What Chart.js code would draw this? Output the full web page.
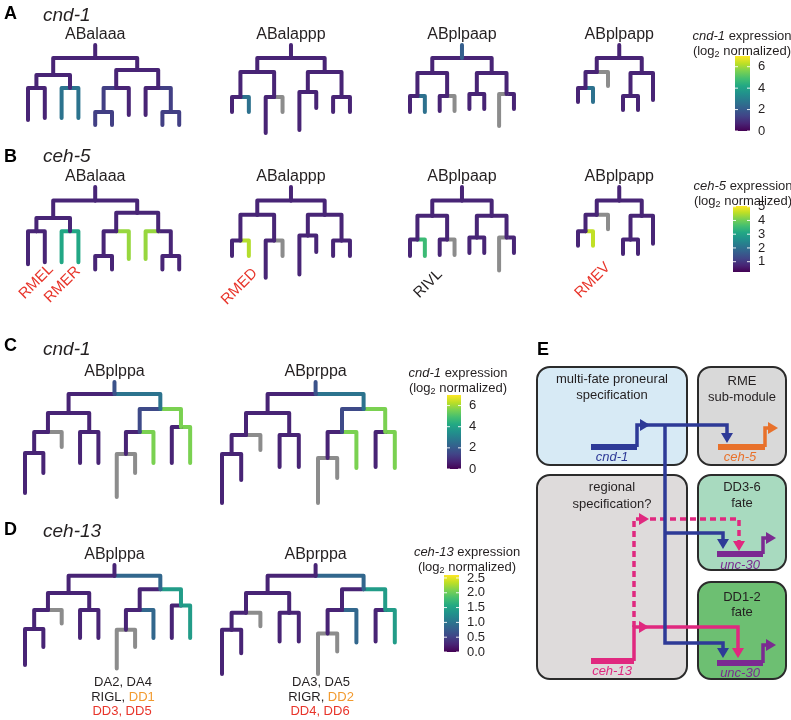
<!DOCTYPE html>
<html>
<head>
<meta charset="utf-8">
<style>
  html, body { margin: 0; background: #fff; }
  #wrap { width: 791px; height: 720px; }
</style>
<script src="https://cdn.jsdelivr.net/npm/chart.js@4.4.1/dist/chart.umd.min.js"></script>
</head>
<body>
<div id="wrap"><canvas id="fig" width="791" height="720"></canvas></div>
<script>
const FONT = '"Liberation Sans", Arial, Helvetica, sans-serif';
Chart.defaults.font.family = FONT;

// ===== lineage data: cell names ('' = founder, a/p = daughters), end time of each cell =====
const cellsABalaaa = ['', 'a', 'aa', 'aaa', 'aap', 'ap', 'apa', 'app', 'p', 'pa', 'paa', 'paaa', 'paap', 'pap', 'pp', 'ppa', 'ppp', 'pppa', 'pppp'];
const endABalaaa   = [13, 30, 43, 75, 73, 43, 73, 73, 25, 43, 67, 80, 80, 70, 43, 70, 67, 80, 80];

const cellsABalappp = ['', 'a', 'aa', 'aaa', 'aap', 'ap', 'apa', 'app', 'p', 'pa', 'paa', 'pap', 'pp', 'ppa', 'ppp'];
const endABalappp   = [13, 27, 52, 67, 67, 52, 88, 67, 27, 47, 85, 63, 52, 67, 67];

const cellsABplpaap = ['', 'a', 'aa', 'aaa', 'aap', 'ap', 'apa', 'app', 'p', 'pa', 'paa', 'pap', 'pp', 'ppa', 'ppp'];
const endABplpaap   = [13, 28, 51, 67, 67, 51, 66, 66, 28, 49, 64, 64, 49, 81, 64];

const cellsABplpapp = ['', 'a', 'aa', 'aaa', 'aap', 'ap', 'p', 'pa', 'paa', 'pap', 'pp'];
const endABplpapp   = [13, 27, 43, 57, 57, 41, 28, 51, 65, 65, 55];

const cellsABplppa = ['', 'a', 'aa', 'aaa', 'aaaa', 'aaap', 'aap', 'ap', 'apa', 'app', 'p', 'pa', 'paa', 'paaa', 'paap', 'pap', 'pp', 'ppa', 'ppp'];
const endABplppa   = [12, 31, 50, 71, 111, 91, 65, 50, 81, 81, 27, 50, 72, 115, 91, 81, 45, 81, 81];

const cellsABprppa = ['', 'a', 'aa', 'aaa', 'aaaa', 'aaap', 'aap', 'ap', 'apa', 'app', 'p', 'pa', 'paa', 'paaa', 'paap', 'pap', 'pp', 'ppa', 'ppp'];
const endABprppa   = [12, 31, 53, 72, 121, 98, 68, 53, 85, 85, 27, 50, 76, 121, 96, 86, 50, 85, 86];

// ===== expression (log2 normalized), null = not measured =====
const cnd1ABalaaa  = [0.7, 0.7, 0.7, 0.7, 0.7, 0.7, 2.65, 2.65, 0.7, 0.7, 1.3, 1.3, 1.3, 0.7, 0.7, 0.7, 1.3, 1.3, 1.3];
const cnd1ABalappp = [0.7, 0.7, 0.7, 0.7, 2.6, 0.7, 0.7, null, 0.7, 0.7, 0.7, 0.7, 0.7, 0.7, 0.7];
const cnd1ABplpaap = [2.1, 0.7, 0.7, 0.7, 2.6, 0.7, 0.7, null, 0.7, 0.7, 0.7, 0.7, 0.7, null, 0.7];
const cnd1ABplpapp = [0.7, 0.7, 0.7, 0.7, 2.6, null, 0.7, 0.7, 0.7, 0.7, 0.7];

const ceh5ABalaaa  = [0.75, 0.75, 0.75, 0.75, 0.75, 0.75, 3.1, 3.1, 0.75, 0.75, 0.75, 0.75, 0.75, 4.3, 0.75, 4.3, 0.75, 0.75, 0.75];
const ceh5ABalappp = [0.75, 0.75, 0.75, 0.75, 4.5, 0.75, 0.75, null, 0.75, 0.75, 0.75, 0.75, 0.75, 0.75, 0.75];
const ceh5ABplpaap = [0.75, 0.75, 0.75, 0.75, 3.5, 0.75, 0.75, null, 0.75, 0.75, 0.75, 0.75, 0.75, null, 0.75];
const ceh5ABplpapp = [0.75, 0.75, 0.75, 0.75, 4.6, null, 0.75, 0.75, 0.75, 0.75, 0.75];

const cnd1ABplppa  = [1.75, 0.7, 0.7, 0.7, 0.7, 0.7, null, 0.7, 0.7, 0.7, 2.65, 1.55, 0.7, null, null, 5.6, 5.6, 0.7, 5.6];
const cnd1ABprppa  = [1.75, 0.7, 0.7, 0.7, 0.7, 0.7, null, 0.7, 0.7, 0.7, 2.65, 1.55, 0.7, null, null, 5.6, 5.6, 0.7, 5.6];

const ceh13ABplppa = [0.26, 0.26, 0.26, 0.26, 0.26, 0.26, null, 0.26, 0.26, 0.26, 0.86, 0.26, 0.26, null, null, 0.86, 1.43, 0.26, 1.43];
const ceh13ABprppa = [0.26, 0.26, 0.26, 0.26, 0.26, 0.26, null, 0.26, 0.26, 0.26, 0.86, 0.26, 0.26, null, null, 0.86, 1.43, 0.26, 1.43];

// ===== colour bar ranges and ticks =====
const cnd1Range  = [0, 7];
const ceh5Range  = [0.25, 5.05];
const ceh13Range = [0, 2.6];
const cnd1Ticks  = [0, 2, 4, 6];
const ceh5Ticks  = [1, 2, 3, 4, 5];
const ceh13Ticks = [0, 0.5, 1, 1.5, 2, 2.5];

// ===== layout of the panels (page coordinates) =====
const trees = [
  { name: 'ABalaaa',  cells: cellsABalaaa,  ends: endABalaaa,  expr: cnd1ABalaaa,  range: cnd1Range,  x0: 28,  dx: 16.8, top: 45, yk: 1 },
  { name: 'ABalappp', cells: cellsABalappp, ends: endABalappp, expr: cnd1ABalappp, range: cnd1Range,  x0: 232, dx: 16.85, top: 45, yk: 1 },
  { name: 'ABplpaap', cells: cellsABplpaap, ends: endABplpaap, expr: cnd1ABplpaap, range: cnd1Range,  x0: 410, dx: 14.85, top: 45, yk: 1 },
  { name: 'ABplpapp', cells: cellsABplpapp, ends: endABplpapp, expr: cnd1ABplpapp, range: cnd1Range,  x0: 578, dx: 15, top: 45, yk: 1 },
  { name: 'ABalaaa',  cells: cellsABalaaa,  ends: endABalaaa,  expr: ceh5ABalaaa,  range: ceh5Range,  x0: 28,  dx: 16.8, top: 187, yk: 1.03 },
  { name: 'ABalappp', cells: cellsABalappp, ends: endABalappp, expr: ceh5ABalappp, range: ceh5Range,  x0: 232, dx: 16.85, top: 187, yk: 1.03 },
  { name: 'ABplpaap', cells: cellsABplpaap, ends: endABplpaap, expr: ceh5ABplpaap, range: ceh5Range,  x0: 410, dx: 14.85, top: 187, yk: 1.03 },
  { name: 'ABplpapp', cells: cellsABplpapp, ends: endABplpapp, expr: ceh5ABplpapp, range: ceh5Range,  x0: 578, dx: 15, top: 187, yk: 1.03 },
  { name: 'ABplppa',  cells: cellsABplppa,  ends: endABplppa,  expr: cnd1ABplppa,  range: cnd1Range,  x0: 25,  dx: 18.35, top: 382, yk: 1 },
  { name: 'ABprppa',  cells: cellsABprppa,  ends: endABprppa,  expr: cnd1ABprppa,  range: cnd1Range,  x0: 222, dx: 19.2, top: 382, yk: 1 },
  { name: 'ABplppa',  cells: cellsABplppa,  ends: endABplppa,  expr: ceh13ABplppa, range: ceh13Range, x0: 25,  dx: 18.35, top: 565, yk: 0.9 },
  { name: 'ABprppa',  cells: cellsABprppa,  ends: endABprppa,  expr: ceh13ABprppa, range: ceh13Range, x0: 222, dx: 19.2, top: 565, yk: 0.9 }
];

const colorBars = [
  { gene: 'cnd-1',  range: cnd1Range,  ticks: cnd1Ticks,  x: 735, w: 15, top: 56,  bottom: 131, cx: 742, ty: 36 },
  { gene: 'ceh-5',  range: ceh5Range,  ticks: ceh5Ticks,  x: 733, w: 17, top: 206, bottom: 272, cx: 743, ty: 186 },
  { gene: 'cnd-1',  range: cnd1Range,  ticks: cnd1Ticks,  x: 447, w: 14, top: 395, bottom: 469, cx: 458, ty: 373 },
  { gene: 'ceh-13', range: ceh13Range, ticks: ceh13Ticks, x: 444, w: 15, top: 575, bottom: 652, cx: 467, ty: 552 }
];

const GRAY = '#8c8c8c';
const RED = '#e8352b';
const ORANGE = '#f29a2e';
const INK = '#231f20';
const E_BLUE = '#2e3a97', E_MAG = '#e0287f', E_PUR = '#7b2a91', E_ORA = '#e8712b';

// viridis
const VIR = ['#440154', '#482475', '#414487', '#355f8d', '#2a788e', '#21918c', '#22a884', '#44bf70', '#7ad151', '#bddf26', '#fde725'];
function hex(h) { return [1, 3, 5].map(i => parseInt(h.substr(i, 2), 16)); }
function viridis(t) {
  t = Math.max(0, Math.min(1, t));
  const p = t * 10, i = Math.min(9, Math.floor(p)), f = p - i;
  const a = hex(VIR[i]), b = hex(VIR[i + 1]);
  const c = a.map((v, k) => Math.round(v + (b[k] - v) * f));
  return `rgb(${c[0]},${c[1]},${c[2]})`;
}

// tree layout: leaves evenly spaced in pre-order, parents midway between daughters
function treeSegments(tr) {
  const idx = {};
  tr.cells.forEach((c, i) => { idx[c] = i; });
  const isLeaf = c => !((c + 'a') in idx) && !((c + 'p') in idx);
  const order = tr.cells.slice().sort();
  const xs = {};
  let k = 0;
  order.forEach(c => { if (isLeaf(c)) xs[c] = tr.x0 + tr.dx * k++; });
  order.slice().sort((a, b) => b.length - a.length).forEach(c => {
    if (!isLeaf(c)) xs[c] = (xs[c + 'a'] + xs[c + 'p']) / 2;
  });
  const endY = c => tr.top + tr.ends[idx[c]] * tr.yk;
  const segs = [];
  tr.cells.forEach((c, i) => {
    const v = tr.expr[i];
    const color = v === null ? GRAY : viridis((v - tr.range[0]) / (tr.range[1] - tr.range[0]));
    let pts;
    if (c === '') pts = [{ x: xs[c], y: tr.top }, { x: xs[c], y: endY(c) }];
    else {
      const p = c.slice(0, -1);
      pts = [{ x: xs[p], y: endY(p) }, { x: xs[c], y: endY(p) }, { x: xs[c], y: endY(c) }];
    }
    segs.push({ pts, color });
  });
  return { segs, rootX: xs[''] };
}

// schematic (panel E) wiring
const ePaths = [
  { pts: [[591, 447], [637, 447]], color: E_BLUE, w: 6 },
  { pts: [[637, 447], [637, 425], [642, 425]], color: E_BLUE, w: 3.5 },
  { pts: [[646, 425], [727, 425], [727, 434]], color: E_BLUE, w: 3.5 },
  { pts: [[665, 425], [665, 643], [723, 643], [723, 649]], color: E_BLUE, w: 3.5 },
  { pts: [[665, 533], [723, 533], [723, 540]], color: E_BLUE, w: 3.5 },
  { pts: [[718, 447], [765, 447]], color: E_ORA, w: 6 },
  { pts: [[765, 447], [765, 428], [769, 428]], color: E_ORA, w: 3.5 },
  { pts: [[591, 661], [634, 661]], color: E_MAG, w: 6 },
  { pts: [[634, 661], [634, 627], [640, 627]], color: E_MAG, w: 3.5 },
  { pts: [[646, 627], [738, 627], [738, 649]], color: E_MAG, w: 3.5 },
  { pts: [[634, 627], [634, 519], [640, 519]], color: E_MAG, w: 3.5, dash: [6, 4] },
  { pts: [[650, 519], [739, 519], [739, 542]], color: E_MAG, w: 3.5, dash: [6, 4] },
  { pts: [[717, 554], [763, 554]], color: E_PUR, w: 6 },
  { pts: [[763, 554], [763, 538], [767, 538]], color: E_PUR, w: 3.5 },
  { pts: [[717, 663], [763, 663]], color: E_PUR, w: 6 },
  { pts: [[763, 663], [763, 645], [767, 645]], color: E_PUR, w: 3.5 }
];
const eHeads = [
  { x: 650, y: 425, dir: 'r', color: E_BLUE }, { x: 727, y: 443, dir: 'd', color: E_BLUE },
  { x: 723, y: 658, dir: 'd', color: E_BLUE }, { x: 723, y: 549, dir: 'd', color: E_BLUE },
  { x: 778, y: 428, dir: 'r', color: E_ORA },
  { x: 649, y: 627, dir: 'r', color: E_MAG }, { x: 738, y: 658, dir: 'd', color: E_MAG },
  { x: 649, y: 519, dir: 'r', color: E_MAG }, { x: 739, y: 551, dir: 'd', color: E_MAG },
  { x: 776, y: 538, dir: 'r', color: E_PUR }, { x: 776, y: 645, dir: 'r', color: E_PUR }
];
const eBoxes = [
  { x: 537, y: 367, w: 150, h: 98, fill: '#d7eaf5' },
  { x: 698, y: 367, w: 88, h: 98, fill: '#d9d9d9' },
  { x: 537, y: 475, w: 150, h: 204, fill: '#dedbdb' },
  { x: 698, y: 475, w: 88, h: 95, fill: '#a8dabf' },
  { x: 698, y: 582, w: 88, h: 97, fill: '#6dbf72' }
];

// text helpers
function run(t, size, color, style, dy) { return { t, size, color: color || INK, style: style || '', dy: dy || 0 }; }
const texts = [
  { runs: [run('A', 18, '#000', 'bold')], x: 4, y: 14 },
  { runs: [run('cnd-1', 19, INK, 'italic')], x: 43, y: 16 },
  { runs: [run('B', 18, '#000', 'bold')], x: 4, y: 157 },
  { runs: [run('ceh-5', 19, INK, 'italic')], x: 43, y: 157 },
  { runs: [run('C', 18, '#000', 'bold')], x: 4, y: 346 },
  { runs: [run('cnd-1', 19, INK, 'italic')], x: 43, y: 350 },
  { runs: [run('D', 18, '#000', 'bold')], x: 4, y: 530 },
  { runs: [run('ceh-13', 19, INK, 'italic')], x: 43, y: 532 },
  { runs: [run('E', 18, '#000', 'bold')], x: 537, y: 350 },
  // B cell identities
  { runs: [run('RMEL', 15, RED)], x: 51, y: 267, rot: -45, align: 'right' },
  { runs: [run('RMER', 15, RED)], x: 78, y: 269, rot: -45, align: 'right' },
  { runs: [run('RMED', 15, RED)], x: 255, y: 271, rot: -45, align: 'right' },
  { runs: [run('RIVL', 15, INK)], x: 440, y: 272, rot: -45, align: 'right' },
  { runs: [run('RMEV', 15, RED)], x: 608, y: 265, rot: -45, align: 'right' },
  // D cell identities
  { runs: [run('DA2, DA4', 13)], x: 123, y: 682, align: 'center' },
  { runs: [run('RIGL, ', 13), run('DD1', 13, ORANGE)], x: 123, y: 697, align: 'center' },
  { runs: [run('DD3, DD5', 13, RED)], x: 122, y: 711, align: 'center' },
  { runs: [run('DA3, DA5', 13)], x: 321, y: 682, align: 'center' },
  { runs: [run('RIGR, ', 13), run('DD2', 13, ORANGE)], x: 321, y: 697, align: 'center' },
  { runs: [run('DD4, DD6', 13, RED)], x: 320, y: 711, align: 'center' },
  // E labels
  { runs: [run('multi-fate proneural', 13)], x: 612, y: 379, align: 'center' },
  { runs: [run('specification', 13)], x: 612, y: 395, align: 'center' },
  { runs: [run('RME', 13)], x: 742, y: 381, align: 'center' },
  { runs: [run('sub-module', 13)], x: 742, y: 397, align: 'center' },
  { runs: [run('regional', 13)], x: 612, y: 487, align: 'center' },
  { runs: [run('specification?', 13)], x: 612, y: 504, align: 'center' },
  { runs: [run('DD3-6', 13)], x: 742, y: 487, align: 'center' },
  { runs: [run('fate', 13)], x: 742, y: 503, align: 'center' },
  { runs: [run('DD1-2', 13)], x: 742, y: 597, align: 'center' },
  { runs: [run('fate', 13)], x: 742, y: 612, align: 'center' },
  { runs: [run('cnd-1', 13, E_BLUE, 'italic')], x: 612, y: 457, align: 'center' },
  { runs: [run('ceh-5', 13, E_ORA, 'italic')], x: 740, y: 457, align: 'center' },
  { runs: [run('unc-30', 13, E_PUR, 'italic')], x: 740, y: 565, align: 'center' },
  { runs: [run('unc-30', 13, E_PUR, 'italic')], x: 740, y: 673, align: 'center' },
  { runs: [run('ceh-13', 13, E_MAG, 'italic')], x: 612, y: 671, align: 'center' }
];

// ===== datasets =====
const datasets = [];
const treeInfo = [];
trees.forEach(tr => {
  const res = treeSegments(tr);
  treeInfo.push({ name: tr.name, x: res.rootX, y: tr.top - 10 });
  res.segs.forEach(s => datasets.push({
    data: s.pts, showLine: true, borderColor: s.color, borderWidth: 4,
    pointRadius: 0, borderCapStyle: 'round', borderJoinStyle: 'round', tension: 0
  }));
});
ePaths.forEach(p => datasets.push({
  data: p.pts.map(q => ({ x: q[0], y: q[1] })), showLine: true, borderColor: p.color,
  borderWidth: p.w, pointRadius: 0, borderCapStyle: 'butt', borderJoinStyle: 'miter',
  borderDash: p.dash || [], tension: 0
}));

function drawRuns(ctx, runs, x, y, align) {
  let total = 0;
  runs.forEach(r => {
    ctx.font = `${r.style} ${r.size}px ${FONT}`;
    r.w = ctx.measureText(r.t).width;
    total += r.w;
  });
  let cx = align === 'center' ? x - total / 2 : align === 'right' ? x - total : x;
  runs.forEach(r => {
    ctx.font = `${r.style} ${r.size}px ${FONT}`;
    ctx.fillStyle = r.color;
    ctx.fillText(r.t, cx, y + r.dy);
    cx += r.w;
  });
}

function roundRect(ctx, x, y, w, h, r) {
  ctx.beginPath();
  ctx.moveTo(x + r, y);
  ctx.arcTo(x + w, y, x + w, y + h, r);
  ctx.arcTo(x + w, y + h, x, y + h, r);
  ctx.arcTo(x, y + h, x, y, r);
  ctx.arcTo(x, y, x + w, y, r);
  ctx.closePath();
}

const decor = {
  id: 'decor',
  beforeDatasetsDraw(chart) {
    const { ctx } = chart;
    const X = v => chart.scales.x.getPixelForValue(v), Y = v => chart.scales.y.getPixelForValue(v);
    ctx.save();
    eBoxes.forEach(b => {
      roundRect(ctx, X(b.x), Y(b.y), X(b.x + b.w) - X(b.x), Y(b.y + b.h) - Y(b.y), 13);
      ctx.fillStyle = b.fill;
      ctx.fill();
      ctx.lineWidth = 2;
      ctx.strokeStyle = '#2b2b2b';
      ctx.stroke();
    });
    ctx.restore();
  },
  afterDatasetsDraw(chart) {
    const { ctx } = chart;
    const X = v => chart.scales.x.getPixelForValue(v), Y = v => chart.scales.y.getPixelForValue(v);
    ctx.save();
    ctx.textBaseline = 'middle';
    // arrow heads
    eHeads.forEach(h => {
      ctx.fillStyle = h.color;
      ctx.beginPath();
      const x = X(h.x), y = Y(h.y), L = 10, W = 6;
      if (h.dir === 'r') { ctx.moveTo(x, y); ctx.lineTo(x - L, y - W); ctx.lineTo(x - L, y + W); }
      else { ctx.moveTo(x, y); ctx.lineTo(x - W, y - L); ctx.lineTo(x + W, y - L); }
      ctx.closePath();
      ctx.fill();
    });
    // tree names
    treeInfo.forEach(t => drawRuns(ctx, [run(t.name, 16)], X(t.x), Y(t.y), 'center'));
    // colour bars
    colorBars.forEach(cb => {
      const top = Y(cb.top), bot = Y(cb.bottom), x = X(cb.x), w = X(cb.x + cb.w) - x;
      const g = ctx.createLinearGradient(0, bot, 0, top);
      VIR.forEach((c, i) => g.addColorStop(i / 10, c));
      ctx.fillStyle = g;
      ctx.fillRect(x, top, w, bot - top);
      const [lo, hi] = cb.range;
      cb.ticks.forEach(v => {
        const ty = bot - (v - lo) / (hi - lo) * (bot - top);
        ctx.strokeStyle = 'rgba(255,255,255,0.9)';
        ctx.lineWidth = 1;
        ctx.beginPath();
        ctx.moveTo(x, ty); ctx.lineTo(x + 3, ty);
        ctx.moveTo(x + w - 3, ty); ctx.lineTo(x + w, ty);
        ctx.stroke();
        const lab = cb.ticks.some(t => t % 1 !== 0) ? v.toFixed(1) : String(v);
        drawRuns(ctx, [run(lab, 13)], x + w + 8, ty, 'left');
      });
      drawRuns(ctx, [run(cb.gene, 13, INK, 'italic'), run(' expression', 13)], X(cb.cx), Y(cb.ty), 'center');
      drawRuns(ctx, [run('(log', 13), run('2', 9, INK, '', 4), run(' normalized)', 13)], X(cb.cx), Y(cb.ty + 15), 'center');
    });
    // other labels
    texts.forEach(t => {
      if (t.rot) {
        ctx.save();
        ctx.translate(X(t.x), Y(t.y));
        ctx.rotate(t.rot * Math.PI / 180);
        drawRuns(ctx, t.runs, 0, 0, t.align);
        ctx.restore();
      } else {
        drawRuns(ctx, t.runs, X(t.x), Y(t.y), t.align || 'left');
      }
    });
    ctx.restore();
  }
};

new Chart(document.getElementById('fig'), {
  type: 'scatter',
  data: { datasets },
  options: {
    responsive: false,
    animation: false,
    events: [],
    layout: { padding: 0 },
    plugins: { legend: { display: false }, tooltip: { enabled: false } },
    scales: {
      x: { type: 'linear', min: 0, max: 791, display: false },
      y: { type: 'linear', min: 0, max: 720, reverse: true, display: false }
    }
  },
  plugins: [decor]
});
</script>
</body>
</html>
